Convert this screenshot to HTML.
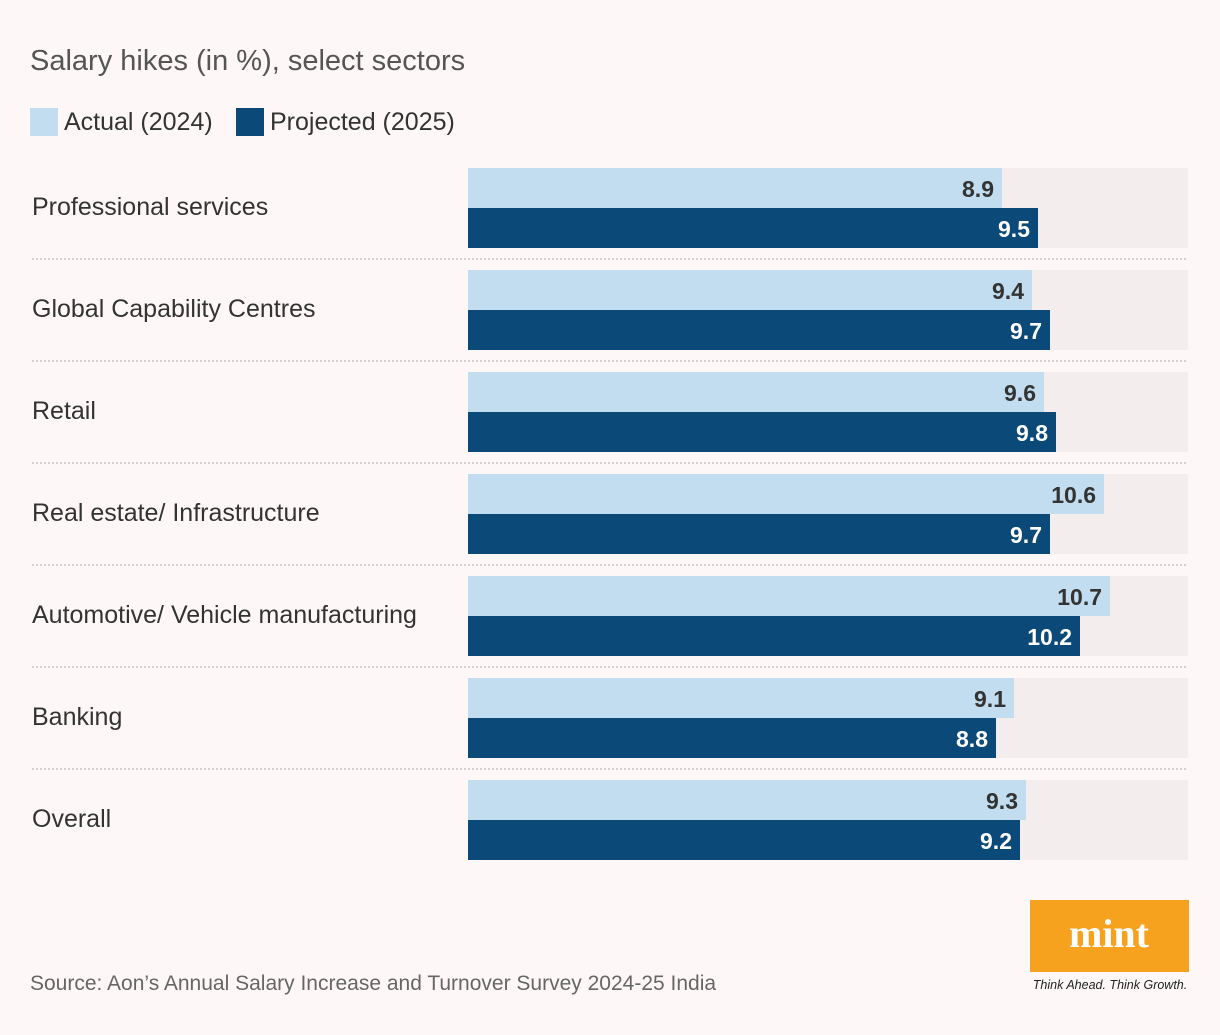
<!DOCTYPE html>
<html><head><meta charset="utf-8"><style>
body{margin:0;background:#fdf8f7;width:1220px;height:1030px;overflow:hidden;font-family:"Liberation Sans",sans-serif}
</style></head><body>
<svg id="chart" width="1220" height="1030" xmlns="http://www.w3.org/2000/svg">
<rect width="1220" height="1030" fill="#fdf8f7"/>
<text x="30" y="70" font-size="29" fill="#555">Salary hikes (in %), select sectors</text>
<g>
<rect x="30" y="108" width="28" height="28" fill="#c2ddef"/>
<text x="64" y="130" font-size="25" fill="#333">Actual (2024)</text>
<rect x="236" y="108" width="28" height="28" fill="#0b4a78"/>
<text x="270" y="130" font-size="25" fill="#333">Projected (2025)</text>
</g>
<g id="bars"></g>
<text x="30" y="990" font-size="21" fill="#666">Source: Aon’s Annual Salary Increase and Turnover Survey 2024-25 India</text>
<g>
<rect x="1030" y="900" width="159" height="72" fill="#f7a21e"/>
<text x="1109" y="947" font-size="40" font-weight="bold" font-family="Liberation Serif,serif" fill="#fff" text-anchor="middle">mint</text>
<text x="1110" y="989" font-size="12.5" font-style="italic" fill="#222" text-anchor="middle">Think Ahead. Think Growth.</text>
</g>
</svg>
<script>
const categories=["Professional services","Global Capability Centres","Retail","Real estate/ Infrastructure","Automotive/ Vehicle manufacturing","Banking","Overall"];
const actual2024=[8.9,9.4,9.6,10.6,10.7,9.1,9.3];
const projected2025=[9.5,9.7,9.8,9.7,10.2,8.8,9.2];
const xMax=12;
const x0=468,plotW=720,top0=168,pitch=102,barH=40;
const xs=v=>v/xMax*plotW;
const g=document.getElementById('bars');
const NS="http://www.w3.org/2000/svg";
function mk(t,a){const e=document.createElementNS(NS,t);for(const k in a)e.setAttribute(k,a[k]);g.appendChild(e);return e;}
categories.forEach((c,i)=>{
 const y=top0+i*pitch;
 const bg=mk('rect',{x:x0,y:y,width:plotW,height:barH*2,fill:'#f3eeed'});
 
 
 const lab=mk('text',{x:32,y:y+47,'font-size':25,fill:'#333'});lab.textContent=c;
 
 
 [[actual2024[i],'#c2ddef','#333','bar-actual'],[projected2025[i],'#0b4a78','#fff','bar-projected']].forEach((s,j)=>{
  const w=xs(s[0]);
  const r=mk('rect',{x:x0,y:y+j*barH,width:w,height:barH,fill:s[1]});
  
  
  const t=mk('text',{x:x0+w-8,y:y+j*barH+29,'font-size':23,'font-weight':'bold',fill:s[2],'text-anchor':'end'});
  t.textContent=s[0].toFixed(1);
  
  
 });
 if(i<categories.length-1){
  const l=mk('line',{x1:32,x2:1188,y1:y+91,y2:y+91,stroke:'#c8c4c3','stroke-width':1.5,'stroke-dasharray':'2,2'});
  
  
 }
});
</script>
</body></html>
